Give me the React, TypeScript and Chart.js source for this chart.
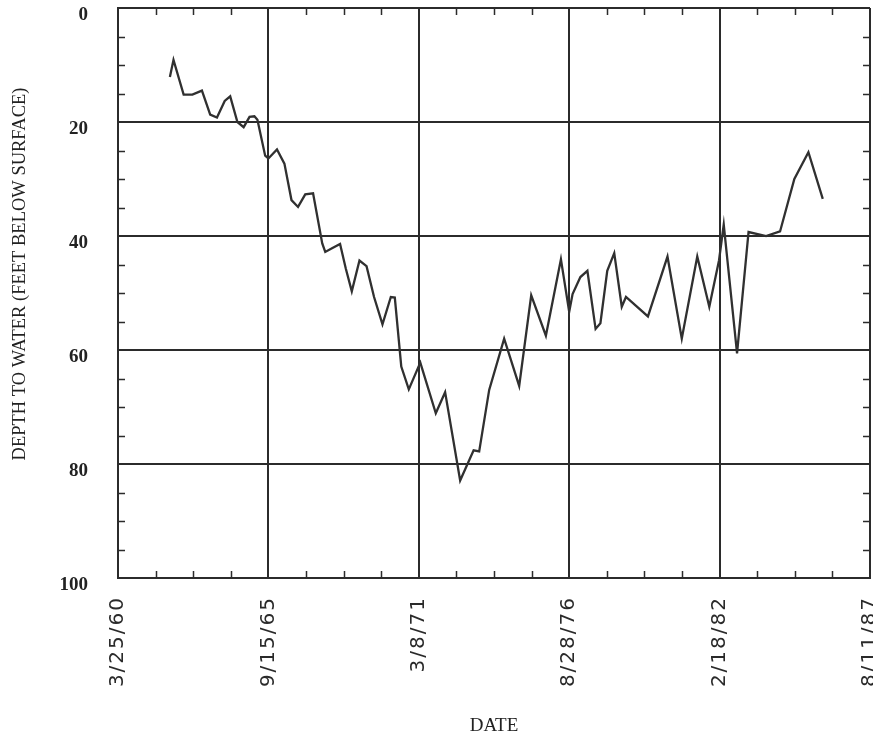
import React, { useEffect, useRef } from "react";
import { Chart, registerables } from "chart.js";

Chart.register(...registerables);

// Days elapsed since 3/25/60 for each water-level measurement
const daysSinceStart = [
  690, 738, 873, 989, 1116, 1226, 1316, 1419, 1492, 1588, 1671, 1749, 1814, 1854, 1957,
  2000, 2114, 2213, 2307, 2394, 2490, 2594, 2716, 2756, 2852, 2953, 3029, 3109, 3211, 3305,
  3405, 3517, 3628, 3681, 3767, 3867, 4020, 4226, 4350, 4550, 4729, 4803, 4936, 5135, 5335,
  5495, 5690, 5890, 6000, 6045, 6149, 6242, 6351, 6415, 6506, 6599, 6699, 6755, 7047, 7307,
  7497, 7703, 7863, 7992, 8055, 8232, 8385, 8618, 8804, 8994, 9181, 9372,
];

// Depth to water, feet below surface
const depthFeet = [
  12.1, 9.1, 15.2, 15.2, 14.5, 18.7, 19.2, 16.3, 15.5, 20.0, 20.9, 19.1, 19.0, 19.6, 25.9,
  26.4, 24.8, 27.3, 33.7, 34.9, 32.7, 32.5, 41.3, 42.8, 42.1, 41.4, 45.7, 49.7, 44.3, 45.3,
  50.7, 55.5, 50.7, 50.8, 62.9, 66.9, 62.2, 71.1, 67.4, 82.9, 77.6, 77.8, 67.0, 58.0, 66.3,
  50.4, 57.5, 44.1, 53.3, 50.2, 47.2, 46.1, 56.3, 55.3, 46.1, 43.0, 52.4, 50.7, 54.1, 43.6,
  58.0, 43.6, 52.4, 44.3, 38.0, 60.6, 39.3, 40.0, 39.2, 30.0, 25.3, 33.5,
];

const xTickDays = [0, 2000, 4000, 6000, 8000, 10000];
const xTickLabels = ["3/25/60", "9/15/65", "3/8/71", "8/28/76", "2/18/82", "8/11/87"];
const yTickValues = [0, 20, 40, 60, 80, 100];
const xMinorStep = 500;
const yMinorStep = 5;

const xTitle = "DATE";
const yTitle = "DEPTH TO WATER (FEET BELOW SURFACE)";

const INK = "#2b2b2b";

const framePlugin = {
  id: "framePlugin",
  beforeDraw(chart: any) {
    (chart.ctx as any).letterSpacing = "2px";
  },
  beforeDatasetsDraw(chart: any) {
    (chart.ctx as any).letterSpacing = "0px";
  },
  afterDraw(chart: any) {
    const { ctx, chartArea: a, scales } = chart;
    const xs = scales.x;
    const ys = scales.y;
    ctx.save();
    (ctx as any).letterSpacing = "0px";
    ctx.strokeStyle = INK;
    ctx.lineWidth = 1.5;
    ctx.beginPath();
    for (let d = xMinorStep; d < xs.max; d += xMinorStep) {
      if (xTickDays.includes(d)) continue;
      const px = Math.round(xs.getPixelForValue(d)) + 0.5;
      ctx.moveTo(px, a.bottom);
      ctx.lineTo(px, a.bottom - 7);
      ctx.moveTo(px, a.top);
      ctx.lineTo(px, a.top + 7);
    }
    for (let v = yMinorStep; v < ys.max; v += yMinorStep) {
      if (yTickValues.includes(v)) continue;
      const py = Math.round(ys.getPixelForValue(v)) + 0.5;
      ctx.moveTo(a.left, py);
      ctx.lineTo(a.left + 7, py);
      ctx.moveTo(a.right, py);
      ctx.lineTo(a.right - 7, py);
    }
    ctx.stroke();

    ctx.fillStyle = "#222";
    ctx.font = '19px "Liberation Serif"';
    ctx.textAlign = "center";
    ctx.textBaseline = "middle";
    ctx.fillText(xTitle, (a.left + a.right) / 2, 726);

    ctx.translate(20, 274);
    ctx.rotate(-Math.PI / 2);
    ctx.font = '18.5px "Liberation Serif"';
    ctx.fillText(yTitle, 0, 0);
    ctx.restore();
  },
};

const zeroPadding = (s: any) => {
  s.paddingLeft = 0;
  s.paddingRight = 0;
  s.paddingTop = 0;
  s.paddingBottom = 0;
};

export default function App() {
  const canvasRef = useRef<HTMLCanvasElement | null>(null);

  useEffect(() => {
    const canvas = canvasRef.current;
    if (!canvas) return;
    const points = daysSinceStart.map((d, i) => ({ x: d, y: depthFeet[i] }));
    const chart = new Chart(canvas, {
      type: "line",
      data: {
        datasets: [
          {
            data: points,
            borderColor: "#303030",
            borderWidth: 2.3,
            pointRadius: 0,
            tension: 0,
            fill: false,
          },
        ],
      },
      options: {
        animation: false,
        responsive: false,
        devicePixelRatio: 1,
        layout: { padding: { top: 8, right: 3, left: 0, bottom: 0 }, autoPadding: false },
        plugins: {
          legend: { display: false },
          tooltip: { enabled: false },
          title: { display: false },
        },
        scales: {
          x: {
            type: "linear",
            min: 0,
            max: 10000,
            afterBuildTicks: (s: any) => {
              s.ticks = xTickDays.map((v) => ({ value: v }));
            },
            afterFit: (s: any) => {
              s.height = 162;
              zeroPadding(s);
            },
            ticks: {
              autoSkip: false,
              minRotation: 90,
              maxRotation: 90,
              padding: 18,
              color: "#2a2a2a",
              font: { family: "DejaVu Sans", size: 20 },
              callback: (_v: any, i: number) => xTickLabels[i],
            },
            grid: { color: INK, lineWidth: 2, drawTicks: false },
            border: { display: true, color: INK, width: 2 },
          },
          y: {
            type: "linear",
            reverse: true,
            min: 0,
            max: 100,
            afterBuildTicks: (s: any) => {
              s.ticks = yTickValues.map((v) => ({ value: v }));
            },
            afterFit: (s: any) => {
              s.width = 118;
              zeroPadding(s);
            },
            ticks: {
              z: 1,
              padding: 30,
              labelOffset: 7,
              color: "#222",
              font: { family: "Liberation Serif", size: 19, weight: "bold" },
              callback: (v: any) => String(v),
            },
            grid: { color: INK, lineWidth: 2, drawTicks: false },
            border: { display: true, color: INK, width: 2 },
          },
        },
      },
      plugins: [framePlugin],
    });
    return () => chart.destroy();
  }, []);

  return (
    <div style={{ position: "absolute", left: 0, top: 0, width: 873, height: 740, background: "#fff" }}>
      <canvas ref={canvasRef} width={873} height={740} style={{ display: "block" }} />
    </div>
  );
}
